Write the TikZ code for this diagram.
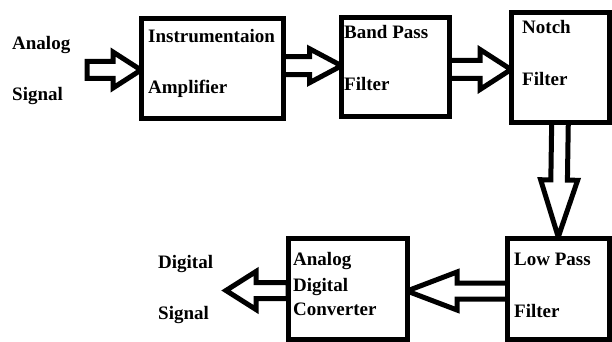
\documentclass[tikz,border=0pt]{standalone}
\usepackage{fontspec}
\setmainfont{Liberation Serif}
\usetikzlibrary{calc}
\pgfdeclarelayer{paper}
\pgfdeclarelayer{flow}
\pgfsetlayers{paper,flow,main}

% Outlined block arrow from #1 (tail) to #2 (tip):
% #3 shaft half-width, #4 head half-width, #5 head length
\newcommand\blockarrow[5]{%
  \coordinate (ba-h) at ($(#2)!#5!(#1)$);
  \draw[barrow] ($(#1)!#3!90:(#2)$) -- ($(ba-h)!#3!-90:(#1)$)
    -- ($(ba-h)!#4!-90:(#1)$) -- (#2) -- ($(ba-h)!#4!90:(#1)$)
    -- ($(ba-h)!#3!90:(#1)$) -- ($(#1)!#3!-90:(#2)$) -- cycle;}

\begin{document}
\begin{tikzpicture}[x=1pt,y=-1pt,
  blk/.style={draw,line width=5pt,fill=white,inner sep=0pt,outer sep=0pt},
  barrow/.style={draw,line width=5pt,fill=white,line join=miter},
  lbl/.style={anchor=base west,inner sep=0pt,font=\fontsize{19}{23}\selectfont\bfseries}]
\begin{pgfonlayer}{paper}
\fill[white] (0,0) rectangle (612,342);
\end{pgfonlayer}
\useasboundingbox (0,0) rectangle (612,342);

% processing blocks
\node[blk,minimum width=142pt,minimum height=100pt] (amp)   at (212,68.25) {};
\node[blk,minimum width=107.5pt,minimum height=98pt] (bpf)  at (395.25,67) {};
\node[blk,minimum width=98pt,minimum height=109pt] (notch)  at (560,67.5) {};
\node[blk,minimum width=101.5pt,minimum height=101pt] (lpf) at (558.25,288.5) {};
\node[blk,minimum width=119pt,minimum height=101pt] (adc)   at (347.5,288.5) {};

% labels
\node[lbl] (inA)  at (12,50)   {Analog};
\node[lbl] (inS)  at (12,100)  {Signal};
\node[lbl] (ampA) at (148,43)  {Instrumentaion};
\node[lbl] (ampB) at (148,94)  {Amplifier};
\node[lbl] (bpfA) at (344,39)  {Band Pass};
\node[lbl] (bpfB) at (344,91)  {Filter};
\node[lbl] (ntA)  at (522,34)  {Notch};
\node[lbl] (ntB)  at (522,86)  {Filter};
\node[lbl] (lpA)  at (514,265) {Low Pass};
\node[lbl] (lpB)  at (514,317) {Filter};
\node[lbl] (adA)  at (293,265) {Analog};
\node[lbl] (adB)  at (293,291) {Digital};
\node[lbl] (adC)  at (293,315) {Converter};
\node[lbl] (outD) at (158,268) {Digital};
\node[lbl] (outS) at (158,319) {Signal};

% arrow end points
\coordinate (a1s) at (87,70);
\coordinate (a1e) at (amp.west |- a1s);
\coordinate (a2s) at ($(amp.east)+(0,-2.5)$);
\coordinate (a2e) at (bpf.west |- a2s);
\coordinate (a3s) at ($(bpf.east)+(0,2.5)$);
\coordinate (a3e) at (notch.west |- a3s);
\coordinate (a4s) at (notch.south);
\coordinate (a4e) at ($(lpf.north)+(0,-1)$);
\coordinate (a5s) at ($(lpf.west)+(0,2.5)$);
\coordinate (a5e) at (adc.east |- a5s);
\coordinate (a6s) at ($(adc.west)+(0,2)$);
\coordinate (a6e) at (226,290.5);

% signal flow arrows, kept beneath the blocks
\begin{pgfonlayer}{flow}
\blockarrow{a1s}{a1e}{8.5pt}{18pt}{28pt}
\blockarrow{a2s}{a2e}{9pt}{17pt}{32pt}
\blockarrow{a3s}{a3e}{9pt}{20pt}{31pt}
\blockarrow{a4s}{a4e}{8.3pt}{18.5pt}{57pt}
\blockarrow{a5s}{a5e}{8pt}{19pt}{50pt}
\blockarrow{a6s}{a6e}{8pt}{19pt}{30pt}
\end{pgfonlayer}
\end{tikzpicture}
\end{document}
